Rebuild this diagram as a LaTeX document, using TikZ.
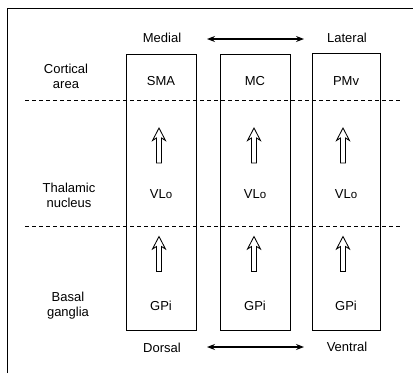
\documentclass[tikz,border=0pt]{standalone}
\usepackage{fontspec}
\setmainfont{Liberation Sans}
\usetikzlibrary{arrows.meta}
\begin{document}
\begin{tikzpicture}[x=1pt,y=-1pt,
 lbl/.style={font=\fontsize{13}{15}\selectfont, align=center, inner sep=0pt},
 colbox/.style={draw, line width=0.7pt},
 sep/.style={dash pattern=on 4pt off 3pt, line width=0.6pt},
 dbl/.style={{Stealth[length=8pt,width=6pt]}-{Stealth[length=8pt,width=6pt]}, line width=1.1pt},
 hollow/.style={draw, fill=white, line width=0.85pt, line join=miter},
 uparrow/.pic={\draw[hollow] (0,-17.5) -- (6.5,-5) -- (2.5,-7.5) -- (2.5,17.5) -- (-2.5,17.5) -- (-2.5,-7.5) -- (-6.5,-5) -- cycle;}]
\useasboundingbox (0,0) rectangle (413,373);
% frame (top and left edges)
\draw[line width=0.8pt] (7,373) -- (7,8) -- (413,8);
% column boxes
\draw[colbox] (126,54) rectangle (196,330);
\draw[colbox] (220,54) rectangle (290,330);
\draw[colbox] (312,53) rectangle (380,330);
% dashed separators
\draw[sep] (25,100) -- (400,100);
\draw[sep] (25,226) -- (400,226);
% row labels
\node[lbl] (cort) at (66,76) {Cortical\\area};
\node[lbl] (thal) at (69,195) {Thalamic\\nucleus};
\node[lbl] (basal) at (68,306) {Basal\\ganglia};
% column contents
\node[lbl] (sma) at (161,81) {SMA};
\node[lbl] (mc) at (255,81) {MC};
\node[lbl] (pmv) at (346,81) {PMv};
\node[lbl] (vlo1) at (161,194) {VL\fontsize{11.5}{13}\selectfont o};
\node[lbl] (vlo2) at (255,194) {VL\fontsize{11.5}{13}\selectfont o};
\node[lbl] (vlo3) at (346,194) {VL\fontsize{11.5}{13}\selectfont o};
\node[lbl] (gpi1) at (161,306) {GPi};
\node[lbl] (gpi2) at (255,306) {GPi};
\node[lbl] (gpi3) at (346,306) {GPi};
% hollow arrows
\foreach \x in {159,254,343}{
  \pic at (\x,145.5) {uparrow};
  \pic at (\x,254) {uparrow};
}
% axis labels
\node[lbl] (medial) at (162,38) {Medial};
\node[lbl] (lateral) at (347,38) {Lateral};
\node[lbl] (dorsal) at (162,348) {Dorsal};
\node[lbl] (ventral) at (347,347) {Ventral};
\coordinate (m1) at (207,39);
\coordinate (m2) at (304,39);
\coordinate (d1) at (207,347);
\coordinate (d2) at (304,347);
\draw[dbl] (m1) -- (m2);
\draw[dbl] (d1) -- (d2);
\end{tikzpicture}
\end{document}
